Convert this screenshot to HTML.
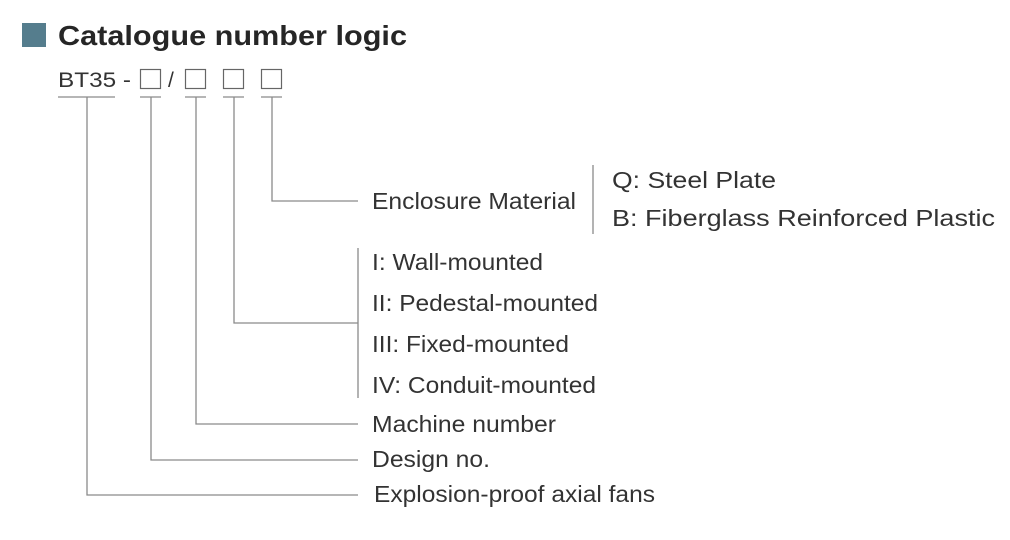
<!DOCTYPE html>
<html><head><meta charset="utf-8"><style>
body{margin:0;width:1010px;height:535px;background:#fff;overflow:hidden}
</style></head><body>
<svg width="1010" height="535" xmlns="http://www.w3.org/2000/svg" font-family="Liberation Sans, sans-serif">
<rect x="22" y="23" width="24" height="24" fill="#557d8d"/>
<text x="58" y="45" font-size="28" font-weight="bold" fill="#262626" textLength="349" lengthAdjust="spacingAndGlyphs">Catalogue number logic</text>
<text x="58" y="87" font-size="21" fill="#333" textLength="73" lengthAdjust="spacingAndGlyphs">BT35 -</text>
<text x="168" y="87" font-size="21" fill="#333">/</text>
<g fill="none" stroke="#666" stroke-width="1.2">
<rect x="140.5" y="69.5" width="20" height="19"/>
<rect x="185.5" y="69.5" width="20" height="19"/>
<rect x="223.5" y="69.5" width="20" height="19"/>
<rect x="261.5" y="69.5" width="20" height="19"/>
</g>
<g fill="none" stroke="#8a8a8a" stroke-width="1.3">
<path d="M58 97H115M140 97H161M185 97H206M223 97H244M261 97H282"/>
<path d="M272 97V201H358"/>
<path d="M234 97V323H358"/>
<path d="M358 248V398"/>
<path d="M196 97V424H358"/>
<path d="M151 97V460H358"/>
<path d="M87 97V495H358"/>
<path d="M593 165V234"/>
</g>
<g font-size="23" fill="#333">
<text x="372" y="209" textLength="204" lengthAdjust="spacingAndGlyphs">Enclosure Material</text>
<text x="612" y="188" textLength="164" lengthAdjust="spacingAndGlyphs">Q: Steel Plate</text>
<text x="612" y="226" textLength="383" lengthAdjust="spacingAndGlyphs">B: Fiberglass Reinforced Plastic</text>
<text x="372" y="270" textLength="171" lengthAdjust="spacingAndGlyphs">I: Wall-mounted</text>
<text x="372" y="311" textLength="226" lengthAdjust="spacingAndGlyphs">II: Pedestal-mounted</text>
<text x="372" y="352" textLength="197" lengthAdjust="spacingAndGlyphs">III: Fixed-mounted</text>
<text x="372" y="393" textLength="224" lengthAdjust="spacingAndGlyphs">IV: Conduit-mounted</text>
<text x="372" y="432" textLength="184" lengthAdjust="spacingAndGlyphs">Machine number</text>
<text x="372" y="467" textLength="118" lengthAdjust="spacingAndGlyphs">Design no.</text>
<text x="374" y="502" textLength="281" lengthAdjust="spacingAndGlyphs">Explosion-proof axial fans</text>
</g>
</svg>
</body></html>
